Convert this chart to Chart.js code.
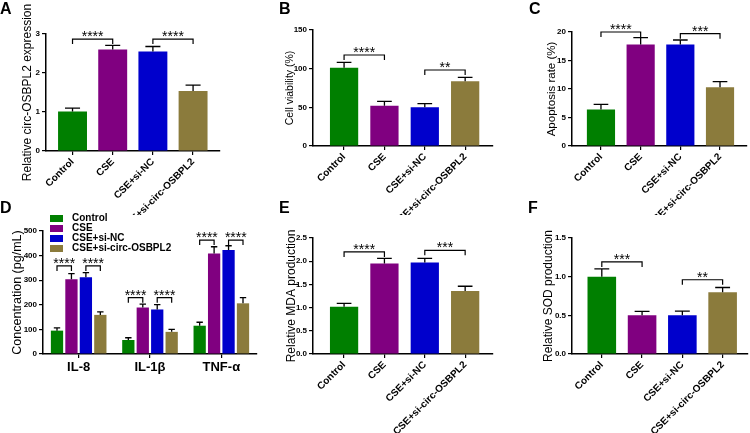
<!DOCTYPE html>
<html lang="en">
<head>
<meta charset="UTF-8">
<title>circ-OSBPL2 panels</title>
<script src="https://cdn.jsdelivr.net/npm/chart.js"></script>
<style>
  body { margin: 0; background: #fff; }
  #fig { position: relative; width: 750px; height: 433px; overflow: hidden; }
  #fig canvas { position: absolute; left: 0; top: 0; }
  .letter { position: absolute; font: bold 16px "Liberation Sans", Arial, sans-serif; line-height: 16px; }
</style>
</head>
<body>
<div id="fig">
  <canvas id="chartA" width="750" height="433"></canvas>
  <canvas id="chartB" width="750" height="433"></canvas>
  <canvas id="chartC" width="750" height="433"></canvas>
  <canvas id="chartD" width="750" height="433"></canvas>
  <canvas id="chartE" width="750" height="433"></canvas>
  <canvas id="chartF" width="750" height="433"></canvas>
  <div class="letter" style="left:0;top:1px">A</div>
  <div class="letter" style="left:279px;top:1px">B</div>
  <div class="letter" style="left:529px;top:1px">C</div>
  <div class="letter" style="left:0;top:200px">D</div>
  <div class="letter" style="left:279px;top:200px">E</div>
  <div class="letter" style="left:528px;top:200px">F</div>
</div>

<script>
  // groups and colours
  const groups = ['Control', 'CSE', 'CSE+si-NC', 'CSE+si-circ-OSBPL2'];
  const groupColors = ['#007f00', '#800080', '#0000cc', '#8b7b3c'];

  // A: relative circ-OSBPL2 expression (mean, sem)
  const circValues = [1.01, 2.60, 2.55, 1.54];
  const circSem = [0.09, 0.11, 0.13, 0.15];
  const circSig = [[0, 1, 2.87, '****'], [2, 3, 2.87, '****']];

  // B: cell viability (%)
  const viabValues = [101.3, 52.2, 50.0, 83.6];
  const viabSem = [6.9, 5.6, 4.7, 5.2];
  const viabSig = [[0, 1, 117.7, '****'], [2, 3, 98.3, '**']];

  // C: apoptosis rate (%)
  const apopValues = [6.4, 17.8, 17.8, 10.3];
  const apopSem = [0.9, 1.2, 0.8, 1.0];
  const apopSig = [[0, 1, 20.0, '****'], [2, 3, 19.7, '***']];

  // D: cytokines (pg/mL), one array per group over cytokines
  const cytokines = ['IL-8', 'IL-1β', 'TNF-α'];
  const cytoControl = [95, 57, 115];
  const cytoCSE = [304, 189, 409];
  const cytoSiNC = [312, 181, 423];
  const cytoSiCirc = [159, 90, 206];
  const cytoControlSem = [11, 9, 14];
  const cytoCSESem = [23, 14, 27];
  const cytoSiNCSem = [19, 20, 17];
  const cytoSiCircSem = [12, 10, 23];
  // [cytokine, group a, group b, y, label]
  const cytoSig = [
    [0, 0, 1, 358, '****'], [0, 2, 3, 358, '****'],
    [1, 0, 1, 229, '****'], [1, 2, 3, 229, '****'],
    [2, 0, 1, 463, '****'], [2, 2, 3, 463, '****']
  ];

  // E: relative MDA production
  const mdaValues = [1.02, 1.95, 1.97, 1.36];
  const mdaSem = [0.07, 0.11, 0.09, 0.10];
  const mdaSig = [[0, 1, 2.20, '****'], [2, 3, 2.235, '***']];

  // F: relative SOD production
  const sodValues = [1.00, 0.50, 0.50, 0.80];
  const sodSem = [0.10, 0.05, 0.055, 0.06];
  const sodSig = [[0, 1, 1.19, '***'], [2, 3, 0.96, '**']];

  const FONT = '"Liberation Sans", Arial, sans-serif';
  Chart.defaults.font.family = FONT;
  Chart.defaults.color = '#000';
  const W = 750, H = 433;

  // error bars (upper only) and significance brackets
  const marks = {
    id: 'marks',
    afterDatasetsDraw(chart, args, opts) {
      const ctx = chart.ctx, y = chart.scales.y;
      ctx.save();
      ctx.strokeStyle = '#000';
      ctx.lineWidth = 1.3;
      chart.data.datasets.forEach((ds, d) => {
        const meta = chart.getDatasetMeta(d);
        meta.data.forEach((bar, i) => {
          const v = meta.controller.getParsed(i).y;
          const top = y.getPixelForValue(v + ds.sem[i]);
          const half = bar.width * 0.26;
          ctx.beginPath();
          ctx.moveTo(bar.x, bar.y);
          ctx.lineTo(bar.x, top);
          ctx.moveTo(bar.x - half, top);
          ctx.lineTo(bar.x + half, top);
          ctx.stroke();
        });
      });
      ctx.lineWidth = 1.2;
      ctx.font = '14px ' + FONT;
      ctx.textAlign = 'center';
      ctx.textBaseline = 'alphabetic';
      ctx.fillStyle = '#000';
      (opts.brackets || []).forEach(b => {
        const x1 = chart.getDatasetMeta(b.from[0]).data[b.from[1]].x;
        const x2 = chart.getDatasetMeta(b.to[0]).data[b.to[1]].x;
        const yp = y.getPixelForValue(b.y);
        ctx.beginPath();
        ctx.moveTo(x1, yp + 5);
        ctx.lineTo(x1, yp);
        ctx.lineTo(x2, yp);
        ctx.lineTo(x2, yp + 5);
        ctx.stroke();
        ctx.fillText(b.text, (x1 + x2) / 2, yp + 2);
      });
      ctx.restore();
    }
  };

  // vertical legend for panel D
  const sideLegend = {
    id: 'sideLegend',
    afterDraw(chart, args, o) {
      if (!o.show) return;
      const ctx = chart.ctx;
      ctx.save();
      ctx.font = 'bold 10px ' + FONT;
      ctx.textBaseline = 'middle';
      chart.data.datasets.forEach((ds, i) => {
        const cy = o.y + i * o.step;
        ctx.fillStyle = ds.backgroundColor;
        ctx.fillRect(o.x, cy - 3.5, 13, 7);
        ctx.fillStyle = '#000';
        ctx.fillText(ds.label, o.x + 22, cy);
      });
      ctx.restore();
    }
  };

  function yScale(p, padLeft) {
    return {
      min: 0, max: p.yMax,
      afterFit: s => { s.width = p.area.left - padLeft; },
      ticks: { stepSize: p.yStep, font: { size: 8, weight: 'bold' }, padding: 2, callback: p.yFmt || (v => v) },
      grid: { drawOnChartArea: false, tickLength: 4, color: '#000', lineWidth: 1.2 },
      border: { color: '#000', width: 1.5 },
      title: { display: true, text: p.yTitle, font: { size: p.titleSize }, padding: 0 }
    };
  }

  // the x scale box runs from the axis down to where the panel is cut off
  function layoutFor(p) {
    const padLeft = p.titleX - p.titleSize * 1.2 / 2;
    return {
      padLeft,
      xh: p.cutY - p.area.bottom,
      padding: { left: padLeft, top: p.area.top, right: W - p.area.right, bottom: H - p.cutY }
    };
  }

  function groupPanel(id, p) {
    const lay = layoutFor(p);
    new Chart(document.getElementById(id), {
      type: 'bar',
      data: {
        datasets: [{
          data: p.values.map((v, i) => ({ x: i, y: v })),
          sem: p.sem,
          backgroundColor: groupColors,
          barPercentage: p.barPct,
          categoryPercentage: 1
        }]
      },
      options: {
        responsive: false,
        animation: false,
        layout: { padding: lay.padding },
        plugins: {
          legend: { display: false },
          tooltip: { enabled: false },
          marks: { brackets: p.sig.map(s => ({ from: [0, s[0]], to: [0, s[1]], y: s[2], text: s[3] })) }
        },
        scales: {
          x: {
            type: 'linear', min: p.xMin, max: p.xMax, offset: false,
            afterBuildTicks: s => { s.ticks = groups.map((g, i) => ({ value: i })); },
            afterFit: s => { s.height = lay.xh; },
            ticks: { callback: v => groups[v], autoSkip: false, minRotation: 45, maxRotation: 45,
                     font: { size: 10, weight: 'bold' }, padding: 1 },
            grid: { offset: false, drawOnChartArea: false, tickLength: 4, color: '#000', lineWidth: 1.2 },
            border: { color: '#000', width: 1.5 }
          },
          y: yScale(p, lay.padLeft)
        }
      },
      plugins: [marks]
    });
  }

  groupPanel('chartA', {
    values: circValues, sem: circSem, sig: circSig, cutY: 215,
    area: { left: 46, top: 34, right: 220, bottom: 151 }, xMin: -0.66, xMax: 3.67, barPct: 0.72,
    yMax: 3, yStep: 1, yTitle: 'Relative circ-OSBPL2 expression', titleX: 28, titleSize: 12
  });
  groupPanel('chartB', {
    values: viabValues, sem: viabSem, sig: viabSig, cutY: 215,
    area: { left: 313, top: 30, right: 493, bottom: 146 }, xMin: -0.77, xMax: 3.69, barPct: 0.7,
    yMax: 150, yStep: 50, yTitle: 'Cell viability (%)', titleX: 290, titleSize: 10.5
  });
  groupPanel('chartC', {
    values: apopValues, sem: apopSem, sig: apopSig, cutY: 215,
    area: { left: 572, top: 32, right: 747, bottom: 146 }, xMin: -0.73, xMax: 3.68, barPct: 0.71,
    yMax: 20, yStep: 5, yTitle: 'Apoptosis rate (%)', titleX: 552, titleSize: 11.5
  });
  groupPanel('chartE', {
    values: mdaValues, sem: mdaSem, sig: mdaSig, cutY: 433,
    area: { left: 313, top: 238, right: 493, bottom: 354 }, xMin: -0.77, xMax: 3.69, barPct: 0.7,
    yMax: 2.5, yStep: 0.5, yFmt: v => v.toFixed(1), yTitle: 'Relative MDA production', titleX: 292, titleSize: 12
  });
  groupPanel('chartF', {
    values: sodValues, sem: sodSem, sig: sodSig, cutY: 433,
    area: { left: 572, top: 238, right: 748, bottom: 354 }, xMin: -0.74, xMax: 3.63, barPct: 0.71,
    yMax: 1.5, yStep: 0.5, yFmt: v => v.toFixed(1), yTitle: 'Relative SOD production', titleX: 549, titleSize: 12
  });

  // panel D: grouped cytokine bars
  const pD = {
    area: { left: 43, top: 231, right: 257, bottom: 354 }, cutY: 433,
    yMax: 500, yStep: 100, yTitle: 'Concentration (pg/mL)', titleX: 18, titleSize: 12.5
  };
  const layD = layoutFor(pD);
  const cytoData = [cytoControl, cytoCSE, cytoSiNC, cytoSiCirc];
  const cytoSem = [cytoControlSem, cytoCSESem, cytoSiNCSem, cytoSiCircSem];
  new Chart(document.getElementById('chartD'), {
    type: 'bar',
    data: {
      labels: cytokines,
      datasets: groups.map((g, i) => ({
        label: g,
        data: cytoData[i],
        sem: cytoSem[i],
        backgroundColor: groupColors[i],
        categoryPercentage: 0.81,
        barPercentage: 0.85
      }))
    },
    options: {
      responsive: false,
      animation: false,
      layout: { padding: layD.padding },
      plugins: {
        legend: { display: false },
        tooltip: { enabled: false },
        sideLegend: { show: true, x: 50, y: 218.5, step: 10 },
        marks: { brackets: cytoSig.map(s => ({ from: [s[1], s[0]], to: [s[2], s[0]], y: s[3], text: s[4] })) }
      },
      scales: {
        x: {
          offset: true,
          afterFit: s => { s.height = layD.xh; },
          ticks: { font: { size: 13, weight: 'bold' }, padding: 2, maxRotation: 0 },
          grid: { offset: false, drawOnChartArea: false, tickLength: 4, color: '#000', lineWidth: 1.2 },
          border: { color: '#000', width: 1.5 }
        },
        y: yScale(pD, layD.padLeft)
      }
    },
    plugins: [marks, sideLegend]
  });
</script>
</body>
</html>
